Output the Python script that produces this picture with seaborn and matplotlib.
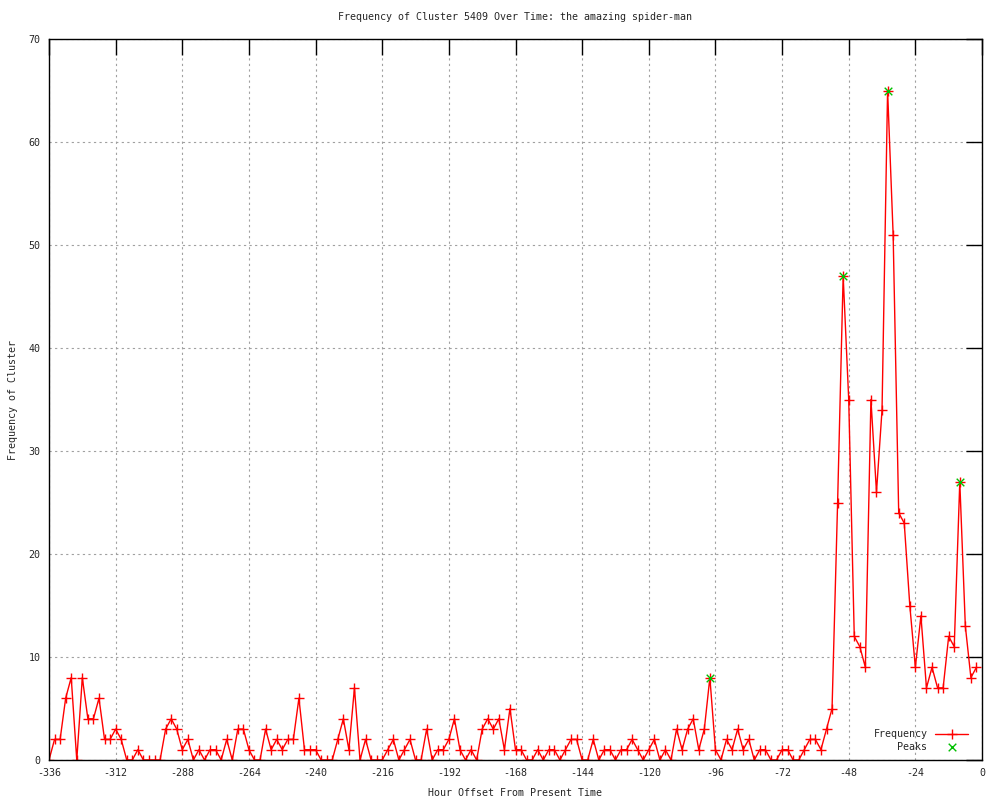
import numpy as np
import pandas as pd
import matplotlib
matplotlib.use("Agg")
import matplotlib.pyplot as plt
import seaborn as sns

# hour offsets, one reading every 2 hours
hours = list(range(-336, 0, 2))

freq = [
    0, 2, 2, 6, 8, 0, 8, 4, 4, 6, 2, 2, 3, 2, 0, 0, 1, 0, 0, 0,
    0, 3, 4, 3, 1, 2, 0, 1, 0, 1, 1, 0, 2, 0, 3, 3, 1, 0, 0, 3,
    1, 2, 1, 2, 2, 6, 1, 1, 1, 0, 0, 0, 2, 4, 1, 7, 0, 2, 0, 0,
    0, 1, 2, 0, 1, 2, 0, 0, 3, 0, 1, 1, 2, 4, 1, 0, 1, 0, 3, 4,
    3, 4, 1, 5, 1, 1, 0, 0, 1, 0, 1, 1, 0, 1, 2, 2, 0, 0, 2, 0,
    1, 1, 0, 1, 1, 2, 1, 0, 1, 2, 0, 1, 0, 3, 1, 3, 4, 1, 3, 8,
    1, 0, 2, 1, 3, 1, 2, 0, 1, 1, 0, 0, 1, 1, 0, 0, 1, 2, 2, 1,
    3, 5, 25, 47, 35, 12, 11, 9, 35, 26, 34, 65, 51, 24, 23, 15, 9, 14, 7, 9,
    7, 7, 12, 11, 27, 13, 8, 9,
]

peak_hours = [-98, -50, -34, -8]
peak_freq = [8, 47, 65, 27]

title = "Frequency of Cluster 5409 Over Time: the amazing spider-man"

df = pd.DataFrame({"Hour": hours, "Frequency": freq})
peaks_df = pd.DataFrame({"Hour": peak_hours, "Frequency": peak_freq})

sns.set_theme(style="white")
plt.rcParams["font.family"] = ["DejaVu Sans Mono", "DejaVu Sans"]
plt.rcParams["axes.unicode_minus"] = False

fig = plt.figure(figsize=(10, 8), dpi=100)
ax = fig.add_axes([0.049, 0.05, 0.933, 0.90125])

sns.lineplot(data=df, x="Hour", y="Frequency", ax=ax, color="red",
             linewidth=1.0, marker="+", markersize=7, markeredgewidth=1.0,
             markeredgecolor="red", label="Frequency")
sns.scatterplot(data=peaks_df, x="Hour", y="Frequency", ax=ax, color="#00c000",
                marker="x", s=30, linewidth=1.0, label="Peaks", zorder=5)

ax.set_xlim(-336, 0)
ax.set_ylim(0, 70)
ax.set_xticks(range(-336, 1, 24))
ax.set_yticks(range(0, 71, 10))

ax.grid(True, color="#a0a0a0", linestyle=(0, (2, 3)), linewidth=0.8)
ax.set_axisbelow(True)
for s in ax.spines.values():
    s.set_color("black")
    s.set_linewidth(1.0)

ax.tick_params(axis="both", direction="in", length=11.5, width=1.0, color="black",
               labelsize=7.2, top=True, right=True, pad=6)

ax.set_title(title, fontsize=7.2, pad=14)
ax.set_xlabel("Hour Offset From Present Time", fontsize=7.2, labelpad=7)
ax.set_ylabel("Frequency of Cluster", fontsize=7.2, labelpad=8)

ax.legend(loc="lower right", bbox_to_anchor=(0.994, 0.0), frameon=False,
          markerfirst=False, fontsize=7.2, handlelength=3.3,
          borderaxespad=0.4, labelspacing=0.3)

fig.savefig("out.png", dpi=100)
